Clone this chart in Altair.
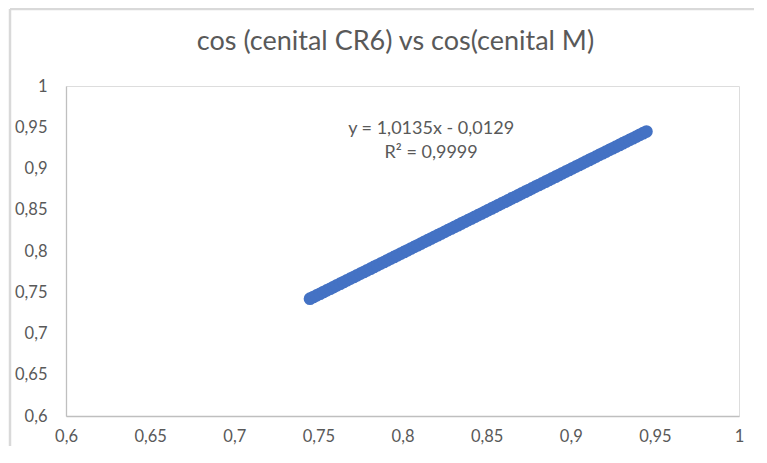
import altair as alt
import pandas as pd

# cos(cenital M) values (x) and cos(cenital CR6) values (y)
x_vals = [0.745, 0.747, 0.749, 0.751, 0.753, 0.755, 0.757, 0.759, 0.761, 0.763,
          0.765, 0.767, 0.769, 0.771, 0.773, 0.775, 0.777, 0.779, 0.781, 0.783,
          0.785, 0.787, 0.789, 0.791, 0.793, 0.795, 0.797, 0.799, 0.801, 0.803,
          0.805, 0.807, 0.809, 0.811, 0.813, 0.815, 0.817, 0.819, 0.821, 0.823,
          0.825, 0.827, 0.829, 0.831, 0.833, 0.835, 0.837, 0.839, 0.841, 0.843,
          0.845, 0.847, 0.849, 0.851, 0.853, 0.855, 0.857, 0.859, 0.861, 0.863,
          0.865, 0.867, 0.869, 0.871, 0.873, 0.875, 0.877, 0.879, 0.881, 0.883,
          0.885, 0.887, 0.889, 0.891, 0.893, 0.895, 0.897, 0.899, 0.901, 0.903,
          0.905, 0.907, 0.909, 0.911, 0.913, 0.915, 0.917, 0.919, 0.921, 0.923,
          0.925, 0.927, 0.929, 0.931, 0.933, 0.935, 0.937, 0.939, 0.941, 0.943,
          0.945]
y_vals = [0.7422, 0.7442, 0.7462, 0.7482, 0.7503, 0.7523, 0.7543, 0.7563, 0.7584, 0.7604,
          0.7624, 0.7645, 0.7665, 0.7685, 0.7705, 0.7726, 0.7746, 0.7766, 0.7786, 0.7807,
          0.7827, 0.7847, 0.7867, 0.7888, 0.7908, 0.7928, 0.7949, 0.7969, 0.7989, 0.8009,
          0.8030, 0.8050, 0.8070, 0.8090, 0.8111, 0.8131, 0.8151, 0.8172, 0.8192, 0.8212,
          0.8232, 0.8253, 0.8273, 0.8293, 0.8313, 0.8334, 0.8354, 0.8374, 0.8394, 0.8415,
          0.8435, 0.8455, 0.8476, 0.8496, 0.8516, 0.8536, 0.8557, 0.8577, 0.8597, 0.8617,
          0.8638, 0.8658, 0.8678, 0.8699, 0.8719, 0.8739, 0.8759, 0.8780, 0.8800, 0.8820,
          0.8840, 0.8861, 0.8881, 0.8901, 0.8921, 0.8942, 0.8962, 0.8982, 0.9003, 0.9023,
          0.9043, 0.9063, 0.9084, 0.9104, 0.9124, 0.9144, 0.9165, 0.9185, 0.9205, 0.9226,
          0.9246, 0.9266, 0.9286, 0.9307, 0.9327, 0.9347, 0.9367, 0.9388, 0.9408, 0.9428,
          0.9449]

tick_vals = [0.6, 0.65, 0.7, 0.75, 0.8, 0.85, 0.9, 0.95, 1.0]

eq_text = ["y = 1,0135x - 0,0129", "R² = 0,9999"]
eq_x = [0.817, 0.817]
eq_y = [0.9479, 0.9188]

title_text = "cos (cenital CR6) vs cos(cenital M)"

df = pd.DataFrame({"x": x_vals, "y": y_vals})
eq_df = pd.DataFrame({"t": eq_text, "x": eq_x, "y": eq_y})

FONT = "Lato"
GREY = "#595959"
label_expr = "replace(format(datum.value, '.2~f'), '.', ',')"

xscale = alt.Scale(domain=[0.6, 1.0], nice=False, zero=False)
yscale = alt.Scale(domain=[0.6, 1.0], nice=False, zero=False)

xaxis = alt.Axis(values=tick_vals, labelExpr=label_expr, title=None, grid=False,
                 ticks=False, domainColor="#bfbfbf", domainWidth=1.3,
                 labelColor=GREY, labelFont=FONT, labelFontSize=16.5,
                 labelPadding=12, labelFlush=False, labelOverlap=False, labelBound=False)
yaxis = alt.Axis(values=tick_vals, labelExpr=label_expr, title=None, grid=False,
                 ticks=False, domainColor="#bfbfbf", domainWidth=1.3,
                 labelColor=GREY, labelFont=FONT, labelFontSize=16.5,
                 labelPadding=19, labelFlush=False, labelOverlap=False, labelBound=False)

# chart-area border (top and left edges visible in the reference)
frame_src = pd.DataFrame({"a": [0]})
frame_top = alt.Chart(frame_src).mark_rule(color="#d9d9d9", strokeWidth=2.5).encode(
    x=alt.value(-56), x2=alt.value(688), y=alt.value(-77))
frame_left = alt.Chart(frame_src).mark_rule(color="#d9d9d9", strokeWidth=2.5).encode(
    x=alt.value(-56), y=alt.value(-77), y2=alt.value(360))

points = alt.Chart(df).mark_circle(size=160, color="#4472C4", opacity=1).encode(
    x=alt.X("x:Q", scale=xscale, axis=xaxis),
    y=alt.Y("y:Q", scale=yscale, axis=yaxis),
)

eq = alt.Chart(eq_df).mark_text(font=FONT, fontSize=18, color=GREY, align="center",
                                baseline="middle").encode(
    x=alt.X("x:Q", scale=xscale),
    y=alt.Y("y:Q", scale=yscale),
    text="t:N",
)

chart = alt.layer(frame_top, frame_left, points, eq).properties(
    width=673, height=330,
    autosize=alt.AutoSizeParams(type="none"),
    padding={"left": 58, "top": 78, "right": 15, "bottom": 30},
    title=alt.TitleParams(title_text, font=FONT, fontSize=27, fontWeight="normal",
                          color=GREY, anchor="middle", offset=-48, dx=-7),
).configure_view(stroke=None).configure(background="white")

chart.save("out.html", embed_options={"renderer": "svg", "actions": False})
